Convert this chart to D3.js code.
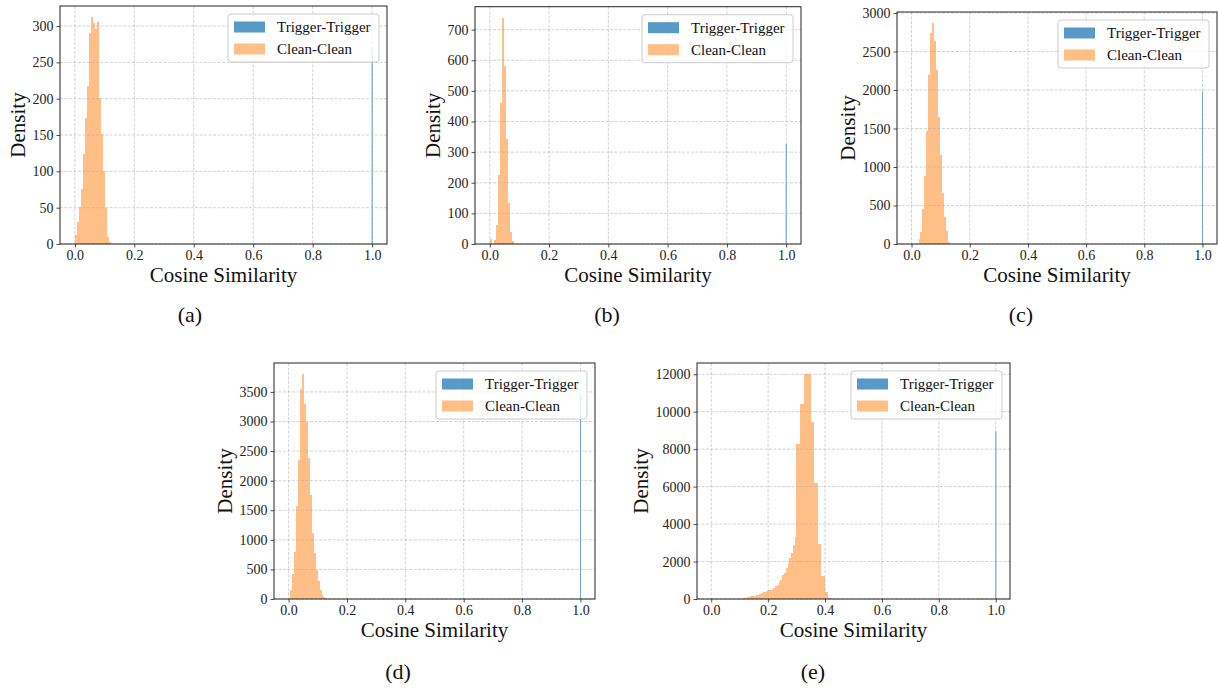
<!DOCTYPE html>
<html>
<head>
<meta charset="utf-8">
<script src="https://cdn.jsdelivr.net/npm/d3@7/dist/d3.min.js"></script>
<style>
	body { margin: 0; background: #fff; }
	svg { display: block; }
</style>
</head>
<body>
<div id="chart"></div>
<script>

const seriesNames = ['Trigger-Trigger', 'Clean-Clean'];
const captions = ['(a)', '(b)', '(c)', '(d)', '(e)'];
const xTicks = [0, 0.2, 0.4, 0.6, 0.8, 1.0];

const yTicksA = [0, 50, 100, 150, 200, 250, 300];
const yTicksB = [0, 100, 200, 300, 400, 500, 600, 700];
const yTicksC = [0, 500, 1000, 1500, 2000, 2500, 3000];
const yTicksD = [0, 500, 1000, 1500, 2000, 2500, 3000, 3500];
const yTicksE = [0, 2000, 4000, 6000, 8000, 10000, 12000];

// Clean-Clean histograms: first bin edge, bin width, density of each bin
const cleanStart = [0.002, 0.0, 0.024, 0.0057, 0.1119];
const cleanWidth = [0.0067, 0.0067, 0.0067, 0.0067, 0.00625];

const cleanA = [12, 30, 51, 76, 124, 174, 218, 290, 312, 304, 296, 305, 201, 151, 100, 50, 10, 3];
const cleanB = [15, 0, 13, 62, 225, 460, 738, 580, 342, 135, 40, 10];
const cleanC = [60, 150, 461, 880, 1474, 2198, 2746, 2870, 2638, 2259, 1655, 1150, 668, 345, 172, 30];
const cleanD = [152, 422, 799, 1570, 2347, 3557, 3799, 3303, 2994, 2375, 1756, 1120, 782, 490, 310, 152, 68, 28, 11];
const cleanE = [40, 60, 90, 110, 150, 160, 180, 190, 220, 280, 330, 370, 400, 420, 470, 500, 560, 600, 680, 740,
	900, 1000, 1300, 1370, 1630, 1940, 2170, 2470, 2880, 3320,
	8300, 8300, 10430, 10430, 12000, 12000, 12000, 12000, 9440, 9440, 6170, 6170, 2950, 2950, 1230, 1230, 370, 370, 60, 60];

// Trigger-Trigger: a single narrow bin at 1.0
const triggerStart = 0.9985;
const triggerWidth = 0.003;
const triggerValues = [272, 327, 1980, 3430, 8950];

const cleanSets = [cleanA, cleanB, cleanC, cleanD, cleanE];
const yTickSets = [yTicksA, yTicksB, yTicksC, yTicksD, yTicksE];

// axes boxes in the page, and caption centre
const layout = [
	{left: 60, top: 6, right: 387, bottom: 244, capX: 190, capY: 322},
	{left: 475, top: 6.7, right: 801, bottom: 244, capX: 607, capY: 322},
	{left: 897, top: 12, right: 1217, bottom: 244, capX: 1021, capY: 322},
	{left: 274, top: 363, right: 595, bottom: 599, capX: 398, capY: 679},
	{left: 697, top: 363, right: 1010, bottom: 599, capX: 813, capY: 679}
];

const blue = '#1f77b4';
const orange = '#ff7f0e';
const font = '"Liberation Serif", "Times New Roman", serif';

const svg = d3.select('#chart').append('svg')
	.attr('width', 1218)
	.attr('height', 688)
	.style('font-family', font);

layout.forEach((p, i) => {

	let g = svg.append('g');
	let values = cleanSets[i];

	let x = d3.scaleLinear().domain([-0.05, 1.05]).range([p.left, p.right]);
	let yMax = Math.max(d3.max(values), triggerValues[i]) * 1.05;
	let y = d3.scaleLinear().domain([0, yMax]).range([p.bottom, p.top]);

	// trigger bin
	g.append('rect')
	.attr('x', x(triggerStart))
	.attr('width', Math.max(1, x(triggerStart + triggerWidth) - x(triggerStart)))
	.attr('y', y(triggerValues[i]))
	.attr('height', y(0) - y(triggerValues[i]))
	.attr('fill', blue)
	.attr('fill-opacity', 0.75);

	// clean bins
	g.selectAll('.bin')
	.data(values)
	.enter().append('rect')
	.attr('class', 'bin')
	.attr('shape-rendering', 'crispEdges')
	.attr('x', (d, k) => x(cleanStart[i] + k * cleanWidth[i]))
	.attr('width', (d, k) => x(cleanStart[i] + (k + 1) * cleanWidth[i]) - x(cleanStart[i] + k * cleanWidth[i]))
	.attr('y', (d) => y(d))
	.attr('height', (d) => y(0) - y(d))
	.attr('fill', orange)
	.attr('fill-opacity', 0.5);

	// grid
	let grid = g.append('g')
	.attr('stroke', '#b0b0b0')
	.attr('stroke-opacity', 0.7)
	.attr('stroke-width', 0.8)
	.attr('stroke-dasharray', '3,1.5');

	grid.selectAll('.gx')
	.data(xTicks)
	.enter().append('line')
	.attr('x1', (d) => x(d)).attr('x2', (d) => x(d))
	.attr('y1', p.top).attr('y2', p.bottom);

	grid.selectAll('.gy')
	.data(yTickSets[i])
	.enter().append('line')
	.attr('x1', p.left).attr('x2', p.right)
	.attr('y1', (d) => y(d)).attr('y2', (d) => y(d));

	// axes
	let xAxis = g.append('g')
	.attr('transform', `translate(0,${p.bottom})`)
	.call(d3.axisBottom(x).tickValues(xTicks).tickFormat(d3.format('.1f')).tickSize(3.5).tickPadding(3));

	let yAxis = g.append('g')
	.attr('transform', `translate(${p.left},0)`)
	.call(d3.axisLeft(y).tickValues(yTickSets[i]).tickFormat(d3.format('d')).tickSize(3.5).tickPadding(3));

	[xAxis, yAxis].forEach((a) => {
		a.select('.domain').remove();
		a.selectAll('text')
		.style('font-family', font)
		.style('font-size', '14px')
		.attr('fill', '#222');
		a.selectAll('line').attr('stroke', '#222').attr('stroke-width', 0.8);
	});

	// frame
	g.append('rect')
	.attr('x', p.left)
	.attr('y', p.top)
	.attr('width', p.right - p.left)
	.attr('height', p.bottom - p.top)
	.attr('fill', 'none')
	.attr('stroke', '#222')
	.attr('stroke-width', 1);

	// axis labels
	let maxW = d3.max(yAxis.selectAll('text').nodes(), (n) => n.getBBox().width);

	g.append('text')
	.attr('x', (p.left + p.right) / 2)
	.attr('y', p.bottom + 38)
	.attr('text-anchor', 'middle')
	.style('font-size', '21px')
	.attr('fill', '#111')
	.text('Cosine Similarity');

	g.append('text')
	.attr('transform', `translate(${p.left - 7 - maxW - 7},${(p.top + p.bottom) / 2}) rotate(-90)`)
	.attr('text-anchor', 'middle')
	.style('font-size', '21px')
	.attr('fill', '#111')
	.text('Density');

	g.append('text')
	.attr('x', p.capX)
	.attr('y', p.capY)
	.attr('text-anchor', 'middle')
	.style('font-size', '22px')
	.attr('fill', '#111')
	.text(captions[i]);

	// legend
	let lw = 151, lh = 48;
	let lx = p.right - 8 - lw;
	let ly = p.top + 8;
	let legend = g.append('g');

	legend.append('rect')
	.attr('x', lx).attr('y', ly)
	.attr('width', lw).attr('height', lh)
	.attr('rx', 3)
	.attr('fill', '#fff')
	.attr('fill-opacity', 0.8)
	.attr('stroke', '#ccc')
	.attr('stroke-width', 1);

	seriesNames.forEach((name, k) => {
		legend.append('rect')
		.attr('x', lx + 6)
		.attr('y', ly + 13 + k * 22 - 5.5)
		.attr('width', 31)
		.attr('height', 11)
		.attr('fill', k == 0 ? blue : orange)
		.attr('fill-opacity', k == 0 ? 0.75 : 0.5);

		legend.append('text')
		.attr('x', lx + 49)
		.attr('y', ly + 13 + k * 22)
		.attr('dy', '0.35em')
		.style('font-size', '15px')
		.attr('fill', '#111')
		.text(name);
	});
});

</script>
</body>
</html>
